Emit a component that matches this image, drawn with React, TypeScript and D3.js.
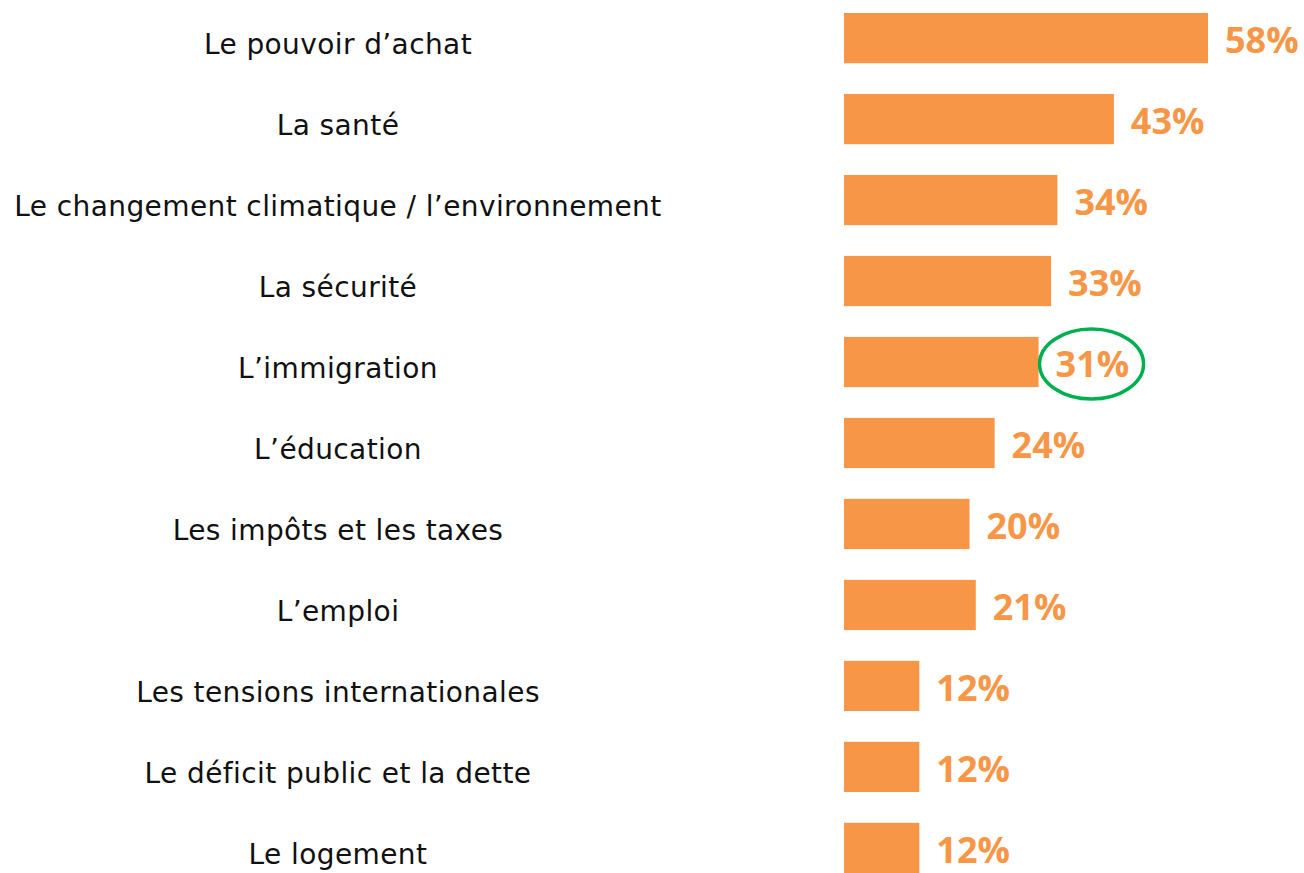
import React, { useRef, useEffect } from "react";
import * as d3 from "d3";

const categories = [
  "Le pouvoir d’achat",
  "La santé",
  "Le changement climatique / l’environnement",
  "La sécurité",
  "L’immigration",
  "L’éducation",
  "Les impôts et les taxes",
  "L’emploi",
  "Les tensions internationales",
  "Le déficit public et la dette",
  "Le logement",
];
const values = [58, 43, 34, 33, 31, 24, 20, 21, 12, 12, 12];
const highlighted = ["L’immigration"];

const W = 1304;
const H = 873;

const App = () => {
  const svgRef = useRef<SVGSVGElement>(null);

  useEffect(() => {
    const svg = d3.select(svgRef.current);
    svg.selectAll("*").remove();

    const barX0 = 844;
    const x = d3.scaleLinear().domain([0, 58]).range([barX0, 1208]);
    const y = d3
      .scaleBand()
      .domain(categories)
      .range([13, 873])
      .paddingInner(0.38)
      .paddingOuter(0);

    const data = categories.map((c, i) => ({ label: c, value: values[i] }));

    svg
      .selectAll(".bar")
      .data(data)
      .enter()
      .append("rect")
      .attr("class", "bar")
      .attr("x", x(0))
      .attr("y", (d) => y(d.label)!)
      .attr("width", (d) => x(d.value) - x(0))
      .attr("height", y.bandwidth())
      .attr("fill", "#F79646");

    // category names sit a little below the bar centre in the original
    svg
      .selectAll(".cat")
      .data(data)
      .enter()
      .append("text")
      .attr("class", "cat")
      .attr("x", 338)
      .attr("y", (d) => y(d.label)! + y.bandwidth() / 2 + 6)
      .attr("dy", "0.36em")
      .attr("text-anchor", "middle")
      .style("font-family", "'DejaVu Sans', sans-serif")
      .style("font-size", "28px")
      .style("letter-spacing", "0.4px")
      .attr("fill", "#111")
      .text((d) => d.label);

    svg
      .selectAll(".val")
      .data(data)
      .enter()
      .append("text")
      .attr("class", "val")
      .attr("x", (d) => x(d.value) + 17)
      .attr("y", (d) => y(d.label)! + y.bandwidth() / 2 + 2)
      .attr("dy", "0.36em")
      .style("font-family", "'Open Sans', sans-serif")
      .style("font-weight", "bold")
      .style("font-size", "36px")
      .attr("fill", "#F79646")
      .text((d) => `${d.value}%`);

    data
      .filter((d) => highlighted.includes(d.label))
      .forEach((d) => {
        svg
          .append("ellipse")
          .attr("cx", x(d.value) + 53)
          .attr("cy", y(d.label)! + y.bandwidth() / 2 + 2)
          .attr("rx", 52)
          .attr("ry", 35)
          .attr("fill", "none")
          .attr("stroke", "#00B050")
          .attr("stroke-width", 3.5);
      });
  }, []);

  return (
    <svg
      ref={svgRef}
      width={W}
      height={H}
      style={{ position: "absolute", left: 0, top: 0, background: "#fff" }}
    ></svg>
  );
};

export default App;
